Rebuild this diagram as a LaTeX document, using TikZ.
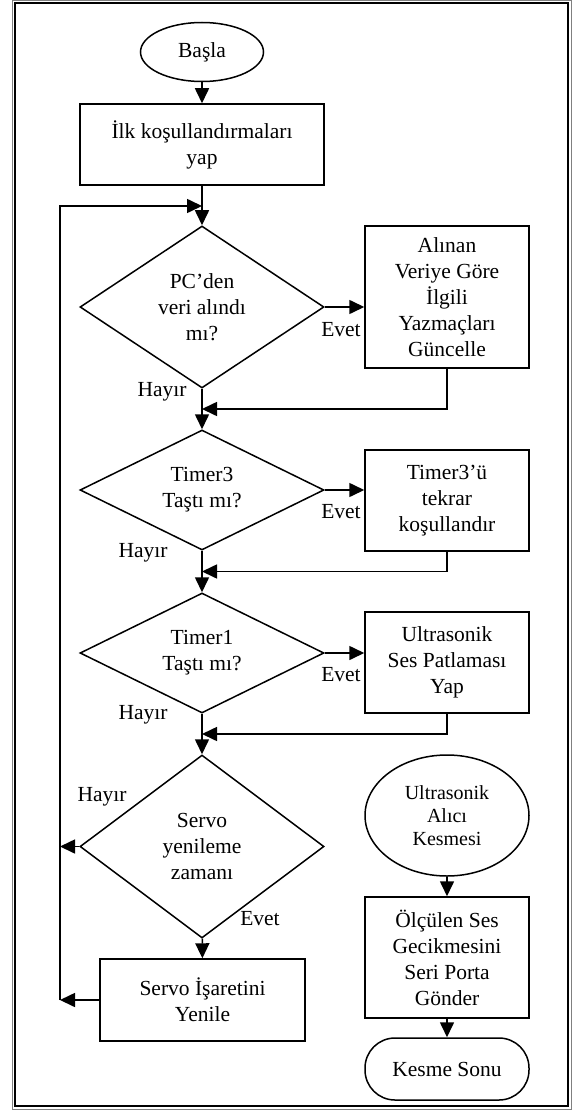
\documentclass[tikz,border=0pt]{standalone}
\usepackage{fontspec}
\setmainfont{Liberation Serif}
\usetikzlibrary{shapes.geometric,arrows.meta,calc}
\begin{document}
\begin{tikzpicture}[x=1pt,y=-1pt,
  every node/.style={font=\fontsize{21.5}{26}\selectfont},
  shp/.style={draw, line width=1.5pt, align=center, inner sep=0pt},
  box/.style={shp, rectangle},
  dec/.style={shp, diamond, aspect=1.5, minimum width=244pt},
  term/.style={shp, ellipse},
  arr/.style={line width=1.6pt, -{Triangle[length=15pt,width=14pt]}},
  lbl/.style={inner sep=0pt}]
\useasboundingbox (0,0) rectangle (574,1110);
% frame
\draw[gray, line width=0.9pt] (12.5,0.5) rectangle (571,1109);
\draw[line width=1.5pt] (15,3) rectangle (568,1106);
% main column
\node[term, minimum width=123pt, minimum height=59pt] (start) at (202,52) {Başla};
\node[box, minimum width=244pt, minimum height=81pt] (init) at (202,144.5) {İlk koşullandırmaları\\yap};
\node[dec, minimum height=162pt] (d1) at (202,307) {PC’den\\veri alındı\\mı?};
\node[dec, minimum height=120pt] (d2) at (202,490) {Timer3\\Taştı mı?};
\node[dec, minimum height=120pt] (d3) at (202,653) {Timer1\\Taştı mı?};
\node[dec, minimum height=183pt] (d4) at (202,846.5) {Servo\\yenileme\\zamanı};
\node[box, minimum width=205pt, minimum height=82pt] (b5) at (202.5,1000) {Servo İşaretini\\Yenile};
% right column
\node[box, minimum width=164pt, minimum height=142pt] (b2) at (447,297) {Alınan\\Veriye Göre\\İlgili\\Yazmaçları\\Güncelle};
\node[box, minimum width=164pt, minimum height=101pt] (b3) at (447,500.5) {Timer3’ü\\tekrar\\koşullandır};
\node[box, minimum width=164pt, minimum height=101pt] (b4) at (447,662.5) {Ultrasonik\\Ses Patlaması\\Yap};
\node[term, minimum width=164pt, minimum height=121pt, font=\fontsize{20}{23}\selectfont] (ua) at (447,815.5) {Ultrasonik\\Alıcı\\Kesmesi};
\node[box, minimum width=164pt, minimum height=121pt] (b6) at (447,957.5) {Ölçülen Ses\\Gecikmesini\\Seri Porta\\Gönder};
\node[box, rounded corners=30pt, minimum width=164pt, minimum height=62pt] (end) at (447,1069) {Kesme Sonu};
% labels
\node[lbl] (ev1) at (341,330) {Evet};
\node[lbl] (ev2) at (341,512) {Evet};
\node[lbl] (ev3) at (341,675) {Evet};
\node[lbl] (ev4) at (260,919) {Evet};
\node[lbl] (h1) at (162,392) {Hayır};
\node[lbl] (h2) at (143,553) {Hayır};
\node[lbl] (h3) at (143,715) {Hayır};
\node[lbl] (h4) at (102,797) {Hayır};
% helper coordinates
\coordinate (lx) at (60,206);
\coordinate (m1) at ($(d1.south)!0.5!(d2.north)$);
\coordinate (m2) at ($(d2.south)!0.5!(d3.north)$);
\coordinate (m3) at ($(d3.south)!0.5!(d4.north)$);
% connectors
\draw[arr] (start) -- (init);
\draw[arr] (init) -- (d1);
\draw[arr] (d1) -- (d2);
\draw[arr] (d2) -- (d3);
\draw[arr] (d3) -- (d4);
\draw[arr] (d4) -- (b5);
\draw[arr] (d1.east) -- (b2.west |- d1.east);
\draw[arr] (d2.east) -- (b3.west |- d2.east);
\draw[arr] (d3.east) -- (b4.west |- d3.east);
\draw[arr] (b2.south) |- (m1);
\draw[arr] (b3.south) |- (m2);
\draw[arr] (b4.south) |- (m3);
\draw[arr] (d4.west) -- (d4.west -| lx);
\draw[arr] (b5.west) -- (b5.west -| lx);
\draw[arr] (b5.west -| lx) -- (lx) -- (init.south |- lx);
\draw[arr] (ua) -- (b6);
\draw[arr] (b6) -- (end);
\end{tikzpicture}
\end{document}
